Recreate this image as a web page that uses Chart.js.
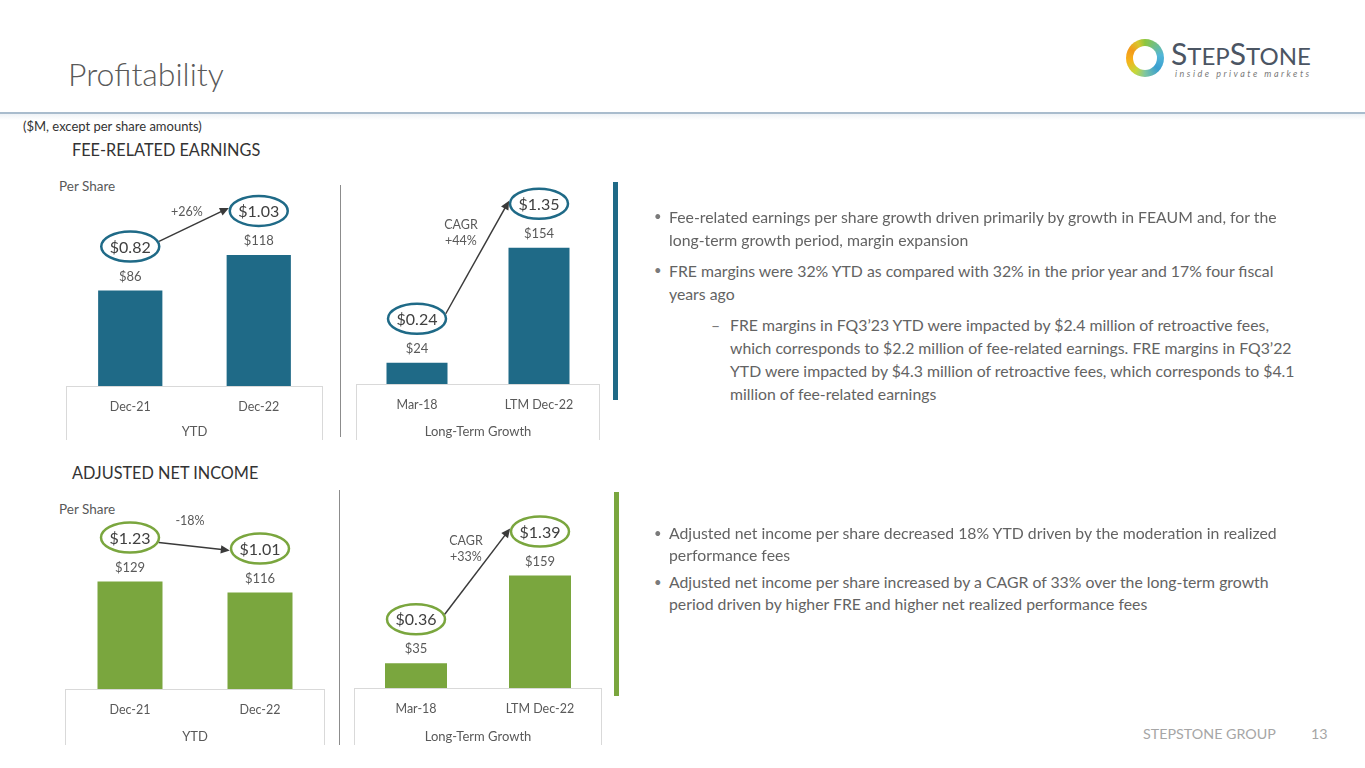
<!DOCTYPE html>
<html><head><meta charset="utf-8">
<script src="https://cdn.jsdelivr.net/npm/chart.js@4"></script>
<style>
body{margin:0;width:1365px;height:768px;background:#fff;position:relative;overflow:hidden;font-family:Lato,"Open Sans",sans-serif;color:#595959}
.a{position:absolute;white-space:nowrap}
.c{position:absolute}
.bl{position:absolute;left:654px;font-size:15.8px;color:#636363;white-space:nowrap}
.bl .b{position:absolute;left:0;color:#7a7a7a;font-size:13px}
.bl .d{position:absolute;left:0;color:#7a7a7a}
.bl .t{position:absolute;left:15px}
.ann{position:absolute;font-size:12.5px;color:#595959;text-align:center;white-space:nowrap;transform:translateX(-50%);line-height:16px}
</style></head><body>

<div class="a" style="left:68px;top:54px;font-size:32px;font-weight:300;color:#595959">Profitability</div>
<div class="a" style="left:0;top:112px;width:1365px;height:1.5px;background:#a9bccd"></div>
<div class="a" style="left:0;top:114px;width:1365px;height:6px;background:linear-gradient(#eef2f6,#fff)"></div>
<div class="a" style="left:23px;top:118px;font-size:13px;color:#333">($M, except per share amounts)</div>
<div class="a" style="left:72px;top:140px;font-size:16.3px;color:#333">FEE-RELATED EARNINGS</div>
<div class="a" style="left:72px;top:463px;font-size:16.3px;color:#333">ADJUSTED NET INCOME</div>
<div class="a" style="left:59px;top:178px;font-size:13.5px;color:#595959">Per Share</div>
<div class="a" style="left:59px;top:501px;font-size:13.5px;color:#595959">Per Share</div>

<!-- logo -->
<div class="a" style="left:1126px;top:39px;width:38px;height:38px;border-radius:50%;background:conic-gradient(from 0deg,#8cc63f,#52b6d8 80deg,#3a9fd0 130deg,#7fc6a0 180deg,#c5d83a 215deg,#f6b21a 260deg,#f39a1b 300deg,#d8c72e 335deg,#8cc63f)"></div>
<div class="a" style="left:1133px;top:46px;width:24px;height:24px;border-radius:50%;background:#fff"></div>
<div class="a" style="left:1171px;top:38px;font-size:24px;color:#4b5563;letter-spacing:0;line-height:30px"><span style="font-size:30px">S</span>TEP<span style="font-size:30px">S</span>TONE</div>
<div class="a" style="left:1175px;top:68px;font-size:9px;font-style:italic;color:#7a7a7a;letter-spacing:2.5px">inside private markets</div>

<!-- dividers -->
<div class="a" style="left:340px;top:185px;width:1px;height:252px;background:#8c8c8c"></div>
<div class="a" style="left:339px;top:490px;width:1px;height:255px;background:#8c8c8c"></div>
<div class="a" style="left:613px;top:182px;width:5px;height:218px;background:#1f6a87"></div>
<div class="a" style="left:614px;top:492px;width:5px;height:204px;background:#7aa63e"></div>

<canvas id="c1" class="c" width="257" height="264" style="left:66px;top:176px"></canvas>
<canvas id="c2" class="c" width="244" height="264" style="left:356px;top:176px"></canvas>
<canvas id="c3" class="c" width="260" height="265" style="left:65px;top:480px"></canvas>
<canvas id="c4" class="c" width="248" height="265" style="left:354px;top:480px"></canvas>

<div class="ann" style="left:187px;top:204px">+26%</div>
<div class="ann" style="left:461px;top:217px">CAGR<br>+44%</div>
<div class="ann" style="left:190px;top:513px">-18%</div>
<div class="ann" style="left:466px;top:533px">CAGR<br>+33%</div>

<!-- bullets -->
<div class="bl" style="top:205px;line-height:23px"><span class="b">•</span><span class="t">Fee-related earnings per share growth driven primarily by growth in FEAUM and, for the<br>long-term growth period, margin expansion</span></div>
<div class="bl" style="top:259px;line-height:23px"><span class="b">•</span><span class="t">FRE margins were 32% YTD as compared with 32% in the prior year and 17% four fiscal<br>years ago</span></div>
<div class="bl" style="top:313px;line-height:23px;left:711px"><span class="d">–</span><span class="t" style="left:19px">FRE margins in FQ3’23 YTD were impacted by $2.4 million of retroactive fees,<br>which corresponds to $2.2 million of fee-related earnings. FRE margins in FQ3’22<br>YTD were impacted by $4.3 million of retroactive fees, which corresponds to $4.1<br>million of fee-related earnings</span></div>
<div class="bl" style="top:522px;line-height:22px"><span class="b">•</span><span class="t">Adjusted net income per share decreased 18% YTD driven by the moderation in realized<br>performance fees</span></div>
<div class="bl" style="top:571px;line-height:22px"><span class="b">•</span><span class="t">Adjusted net income per share increased by a CAGR of 33% over the long-term growth<br>period driven by higher FRE and higher net realized performance fees</span></div>

<div class="a" style="left:1143px;top:725px;font-size:14.3px;color:#a6a6a6">STEPSTONE GROUP</div>
<div class="a" style="left:1311px;top:725px;font-size:14.3px;color:#a6a6a6">13</div>

<script>
// ---- data ----
const categoriesYTD = ['Dec-21', 'Dec-22'];
const categoriesLTG = ['Mar-18', 'LTM Dec-22'];
const groupYTD = 'YTD';
const groupLTG = 'Long-Term Growth';
const freYTD = [86, 118];
const freYTDPerShare = [0.82, 1.03];
const freLTG = [24, 154];
const freLTGPerShare = [0.24, 1.35];
const aniYTD = [129, 116];
const aniYTDPerShare = [1.23, 1.01];
const aniLTG = [35, 159];
const aniLTGPerShare = [0.36, 1.39];

const BLUE = '#1f6a87';
const GREEN = '#7aa63e';
const FONT = 'Lato, "Open Sans", sans-serif';

function decoPlugin(values, perShare, color) {
  return {
    id: 'deco',
    afterDatasetsDraw(chart) {
      const ctx = chart.ctx, ca = chart.chartArea, xs = chart.scales.x;
      const meta = chart.getDatasetMeta(0);
      ctx.save();
      // axis box
      ctx.strokeStyle = '#d9d9d9'; ctx.lineWidth = 1;
      ctx.beginPath();
      ctx.moveTo(xs.left, ca.bottom + 0.5); ctx.lineTo(xs.right, ca.bottom + 0.5);
      ctx.moveTo(xs.left + 0.5, ca.bottom); ctx.lineTo(xs.left + 0.5, chart.height);
      ctx.moveTo(xs.right - 0.5, ca.bottom); ctx.lineTo(xs.right - 0.5, chart.height);
      ctx.stroke();
      // value labels
      ctx.textAlign = 'center'; ctx.textBaseline = 'middle';
      ctx.fillStyle = '#595959'; ctx.font = '13px ' + FONT;
      const ell = [];
      meta.data.forEach((bar, i) => {
        ctx.fillText('$' + values[i], bar.x, bar.y - 14);
        ell.push({ x: bar.x, y: bar.y - 44 });
      });
      // ellipses with per-share values
      const rx = 29, ry = 15;
      ell.forEach((e, i) => {
        ctx.beginPath();
        ctx.ellipse(e.x, e.y, rx, ry, 0, 0, Math.PI * 2);
        ctx.fillStyle = '#fff'; ctx.fill();
        ctx.strokeStyle = color; ctx.lineWidth = 2.5; ctx.stroke();
        ctx.fillStyle = '#404040'; ctx.font = '16px ' + FONT;
        ctx.fillText('$' + perShare[i].toFixed(2), e.x, e.y + 1);
      });
      // arrow
      const e0 = ell[0], e1 = ell[1];
      const sg = e1.y < e0.y ? -1 : 1;
      const dy0 = 5 * sg, dy1 = -3 * (sg < 0 ? 1 : -0.7);
      const sx = e0.x + (rx + 1.5) * Math.sqrt(1 - (dy0 / ry) ** 2), sy = e0.y + dy0;
      const ex = e1.x - (rx + 1.5) * Math.sqrt(1 - (dy1 / ry) ** 2), ey = e1.y + (sg < 0 ? -3 : 2);
      const ang = Math.atan2(ey - sy, ex - sx);
      const hl = 9, hw = 4.2;
      ctx.strokeStyle = '#3a3a3a'; ctx.fillStyle = '#3a3a3a'; ctx.lineWidth = 1.5;
      ctx.beginPath();
      ctx.moveTo(sx, sy);
      ctx.lineTo(ex - (hl - 1) * Math.cos(ang), ey - (hl - 1) * Math.sin(ang));
      ctx.stroke();
      ctx.beginPath();
      ctx.moveTo(ex, ey);
      ctx.lineTo(ex - hl * Math.cos(ang) - hw * Math.sin(ang), ey - hl * Math.sin(ang) + hw * Math.cos(ang));
      ctx.lineTo(ex - hl * Math.cos(ang) + hw * Math.sin(ang), ey - hl * Math.sin(ang) - hw * Math.cos(ang));
      ctx.closePath(); ctx.fill();
      ctx.restore();
    }
  };
}

function makeChart(id, labels, values, perShare, color, group, yMax, axisH) {
  return new Chart(document.getElementById(id), {
    type: 'bar',
    data: {
      labels: labels,
      datasets: [{ data: values, backgroundColor: color, categoryPercentage: 1, barPercentage: 0.5 }]
    },
    options: {
      responsive: false,
      animation: false,
      layout: { padding: 0 },
      plugins: { legend: { display: false }, tooltip: { enabled: false } },
      scales: {
        x: {
          grid: { display: false, drawTicks: false },
          border: { display: false },
          ticks: { color: '#595959', font: { family: FONT, size: 12.5 }, padding: 13, maxRotation: 0 },
          title: { display: true, text: group, color: '#595959', font: { family: FONT, size: 13 }, padding: { top: 0, bottom: 0 } },
          afterFit(s) { s.height = axisH; }
        },
        y: { display: false, min: 0, max: yMax }
      }
    },
    plugins: [decoPlugin(values, perShare, color)]
  });
}

makeChart('c1', categoriesYTD, freYTD, freYTDPerShare, BLUE, groupYTD, 189, 54);
makeChart('c2', categoriesLTG, freLTG, freLTGPerShare, BLUE, groupLTG, 235, 56);
makeChart('c3', categoriesYTD, aniYTD, aniYTDPerShare, GREEN, groupYTD, 251, 56);
makeChart('c4', categoriesLTG, aniLTG, aniLTGPerShare, GREEN, groupLTG, 294, 57);
</script>
</body></html>
